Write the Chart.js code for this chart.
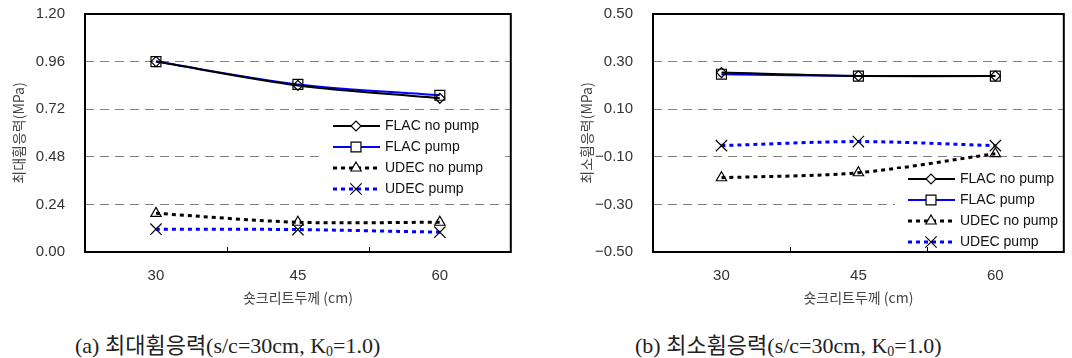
<!DOCTYPE html>
<html>
<head>
<meta charset="utf-8">
<script src="https://cdn.jsdelivr.net/npm/chart.js@4.4.1/dist/chart.umd.min.js"></script>
<style>
body{margin:0;width:1072px;height:358px;overflow:hidden;background:#fff;position:relative}
.box{position:absolute;top:0;height:310px}
.cap{position:absolute;top:333px;font-family:"Liberation Serif","Noto Sans CJK KR",serif;font-size:22px;color:#222;white-space:nowrap;line-height:26px}
.cap sub{font-size:14px;vertical-align:-3px}
</style>
</head>
<body>
<div class="box" style="left:0;width:520px"><canvas id="chartMax"></canvas></div>
<div class="box" style="left:568px;width:505px"><canvas id="chartMin"></canvas></div>
<div class="cap" style="left:75px">(a) 최대휨응력(s/c=30cm, K<sub>0</sub>=1.0)</div>
<div class="cap" style="left:635px">(b) 최소휨응력(s/c=30cm, K<sub>0</sub>=1.0)</div>
<script>
// 숏크리트 두께 (cm)
const thickness = ['30', '45', '60'];
const seriesNames = ['FLAC no pump', 'FLAC pump', 'UDEC no pump', 'UDEC pump'];

// 최대휨응력 (MPa)
const maxFlacNoPump = [0.96, 0.84, 0.775];
const maxFlacPump = [0.96, 0.845, 0.79];
const maxUdecNoPump = [0.195, 0.15, 0.15];
const maxUdecPump = [0.115, 0.113, 0.10];

// 최소휨응력 (MPa)
const minFlacNoPump = [0.254, 0.24, 0.24];
const minFlacPump = [0.247, 0.239, 0.239];
const minUdecNoPump = [-0.188, -0.167, -0.087];
const minUdecPump = [-0.053, -0.036, -0.053];

const tickFont = {family: '"Liberation Sans", Arial, sans-serif', size: 15};
const titleFont = {family: '"Noto Sans CJK KR", sans-serif', size: 14};

function makeSets(vals) {
  const styles = [
    {borderColor: '#000', borderWidth: 2, pointStyle: 'rectRot', pointRadius: 5},
    {borderColor: '#0000ff', borderWidth: 2, pointStyle: 'rect', pointRadius: 7},
    {borderColor: '#000', borderWidth: 3, borderDash: [4, 4], pointStyle: 'triangle', pointRadius: 6},
    {borderColor: '#0000ff', borderWidth: 3, borderDash: [4, 4], pointStyle: 'crossRot', pointRadius: 8}
  ];
  return vals.map((v, i) => Object.assign({
    label: seriesNames[i],
    data: v,
    pointBorderColor: '#000',
    pointBackgroundColor: 'rgba(255,255,255,0)',
    pointBorderWidth: 1.2,
    tension: 0.3,
    fill: false
  }, styles[i]));
}

// 테두리, 안쪽 눈금, 범례
const frame = {
  id: 'frame',
  afterDatasetsDraw(chart, args, opts) {
    const {ctx, chartArea: a, scales: {x}} = chart;
    ctx.save();
    // legend
    const lx = a.left + opts.x, ly = a.top + opts.y;
    ctx.fillStyle = '#fff';
    ctx.fillRect(lx, ly, opts.w, opts.h);
    chart.data.datasets.forEach((ds, i) => {
      const yy = ly + opts.first + i * opts.row;
      ctx.strokeStyle = ds.borderColor;
      ctx.lineWidth = ds.borderWidth;
      ctx.setLineDash(ds.borderDash || []);
      ctx.beginPath();
      ctx.moveTo(lx + 13, yy);
      ctx.lineTo(lx + 60, yy);
      ctx.stroke();
      ctx.setLineDash([]);
      ctx.strokeStyle = '#000';
      ctx.fillStyle = '#fff';
      ctx.lineWidth = 1.2;
      Chart.helpers.drawPoint(ctx, {pointStyle: ds.pointStyle, radius: ds.pointRadius, rotation: 0, borderWidth: 1.2}, lx + 36, yy);
      ctx.fillStyle = '#111';
      ctx.font = '14px "Liberation Sans", Arial, sans-serif';
      ctx.textBaseline = 'middle';
      ctx.fillText(ds.label, lx + 65, yy);
    });
    // inner ticks
    const step = x.getPixelForValue(1) - x.getPixelForValue(0);
    ctx.strokeStyle = '#000';
    ctx.lineWidth = 1;
    for (let i = 0; i < chart.data.labels.length - 1; i++) {
      const px = Math.round(x.getPixelForValue(i) + step / 2) + 0.5;
      ctx.beginPath();
      ctx.moveTo(px, a.bottom);
      ctx.lineTo(px, a.bottom - 5);
      ctx.stroke();
    }
    ctx.lineWidth = 2;
    ctx.strokeRect(a.left, a.top, a.right - a.left, a.bottom - a.top);
    ctx.restore();
  }
};

function makeChart(id, vals, min, max, step, yTitle, legend, padRight) {
  return new Chart(document.getElementById(id), {
    type: 'line',
    data: {labels: thickness, datasets: makeSets(vals)},
    plugins: [frame],
    options: {
      responsive: true,
      maintainAspectRatio: false,
      animation: false,
      layout: {padding: {top: 14, right: padRight, left: 0, bottom: 0}},
      plugins: {legend: {display: false}, tooltip: {enabled: false}, frame: legend},
      scales: {
        x: {
          offset: true,
          grid: {display: false, drawTicks: false},
          border: {display: false},
          ticks: {font: tickFont, color: '#333', padding: 15},
          title: {display: true, text: '숏크리트두께 (cm)', font: titleFont, color: '#444', padding: {top: 4, bottom: 4}},
          afterFit(s) { s.height = 58; }
        },
        y: {
          min: min, max: max,
          grid: {color: '#808080', lineWidth: 1, drawTicks: true, tickLength: 20, tickColor: 'rgba(0,0,0,0)'},
          border: {display: false, dash: [9, 6]},
          ticks: {
            stepSize: step, font: tickFont, color: '#333', padding: 0,
            callback: v => v.toFixed(2).replace('-', '\u2212')
          },
          title: {display: true, text: yTitle, font: titleFont, color: '#444', padding: {top: 10, bottom: 10}},
          afterFit(s) { s.width = 85; }
        }
      }
    }
  });
}

makeChart('chartMax', [maxFlacNoPump, maxFlacPump, maxUdecNoPump, maxUdecPump], 0, 1.2, 0.24,
  '최대휨응력(MPa)', {x: 235, y: 98, w: 185, h: 88, row: 21, first: 14}, 7);
makeChart('chartMin', [minFlacNoPump, minFlacPump, minUdecNoPump, minUdecPump], -0.5, 0.5, 0.2,
  '최소휨응력(MPa)', {x: 242, y: 155, w: 175, h: 82, row: 21, first: 10}, 0);
</script>
</body>
</html>
